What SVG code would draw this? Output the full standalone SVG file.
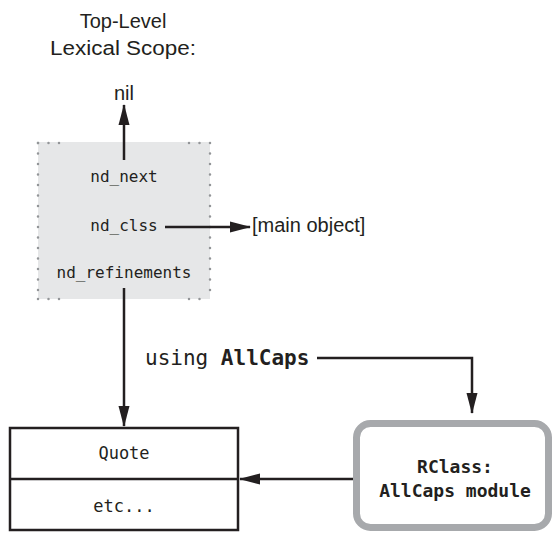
<svg xmlns="http://www.w3.org/2000/svg" width="553" height="533" viewBox="0 0 553 533">
<defs>
<style>
.sans{font-family:"Liberation Sans",Arial,sans-serif;font-size:20px;fill:#231f20}
.mono{font-family:"DejaVu Sans Mono","Liberation Mono",monospace;fill:#231f20}
.line{stroke:#231f20;stroke-width:2.5;fill:none}
.dot{stroke:#939598;stroke-width:2.5;stroke-linecap:round;stroke-dasharray:0 10.5;fill:none}
</style>
<marker id="ah" markerUnits="userSpaceOnUse" markerWidth="21" markerHeight="12" refX="20" refY="6" orient="auto">
<path d="M0,0.5 L21,6 L0,11.5 z" fill="#231f20"/>
</marker>
</defs>
<rect width="553" height="533" fill="#ffffff"/>
<g id="title">
<text class="sans" x="123" y="28" text-anchor="middle">Top-Level</text>
<text class="sans" x="123" y="55" text-anchor="middle" textLength="146" lengthAdjust="spacingAndGlyphs">Lexical Scope:</text>
</g>
<g id="nil"><text class="sans" x="124" y="100" text-anchor="middle">nil</text></g>
<g id="main-object"><text class="sans" x="252" y="232">[main object]</text></g>
<g id="scope">
<rect x="38" y="142" width="172" height="157" fill="#e6e7e8"/>
<line class="dot" x1="38" y1="143" x2="38" y2="299"/>
<line class="dot" x1="210" y1="143" x2="210" y2="299"/>
<line class="dot" x1="38" y1="143" x2="62" y2="143"/>
<line class="dot" x1="189" y1="143" x2="210" y2="143"/>
<line class="dot" x1="38" y1="299" x2="62" y2="299"/>
<line class="dot" x1="189" y1="299" x2="210" y2="299"/>
<text class="mono" x="124" y="182" font-size="16" text-anchor="middle">nd_next</text>
<text class="mono" x="124" y="231" font-size="16" text-anchor="middle">nd_clss</text>
<text class="mono" x="124" y="278" font-size="16" text-anchor="middle">nd_refinements</text>
</g>
<g id="quote">
<rect x="10" y="428" width="228" height="102" fill="#ffffff" stroke="#231f20" stroke-width="2.5"/>
<line class="line" x1="10" y1="479" x2="238" y2="479"/>
<text class="mono" x="124" y="459" font-size="17" text-anchor="middle">Quote</text>
<text class="mono" x="124" y="512" font-size="17" text-anchor="middle">etc...</text>
</g>
<g id="rclass">
<rect x="356.5" y="423.5" width="192" height="104" rx="14" fill="#ffffff" stroke="#a7a9ac" stroke-width="7"/>
<text class="mono" x="455" y="473" font-size="18" font-weight="bold" text-anchor="middle">RClass:</text>
<text class="mono" x="455" y="497" font-size="18" font-weight="bold" text-anchor="middle">AllCaps module</text>
</g>
<g id="using-label">
<text class="mono" x="145" y="365" font-size="21">using <tspan font-weight="bold">AllCaps</tspan></text>
</g>
<g id="connectors">
<line class="line" x1="124" y1="160" x2="124" y2="105" marker-end="url(#ah)"/>
<line class="line" x1="165" y1="227" x2="250" y2="227" marker-end="url(#ah)"/>
<line class="line" x1="124" y1="288" x2="124" y2="426" marker-end="url(#ah)"/>
<path class="line" d="M317,358 H472 V413" marker-end="url(#ah)"/>
<line class="line" x1="353" y1="479" x2="240" y2="479" marker-end="url(#ah)"/>
</g>
</svg>
